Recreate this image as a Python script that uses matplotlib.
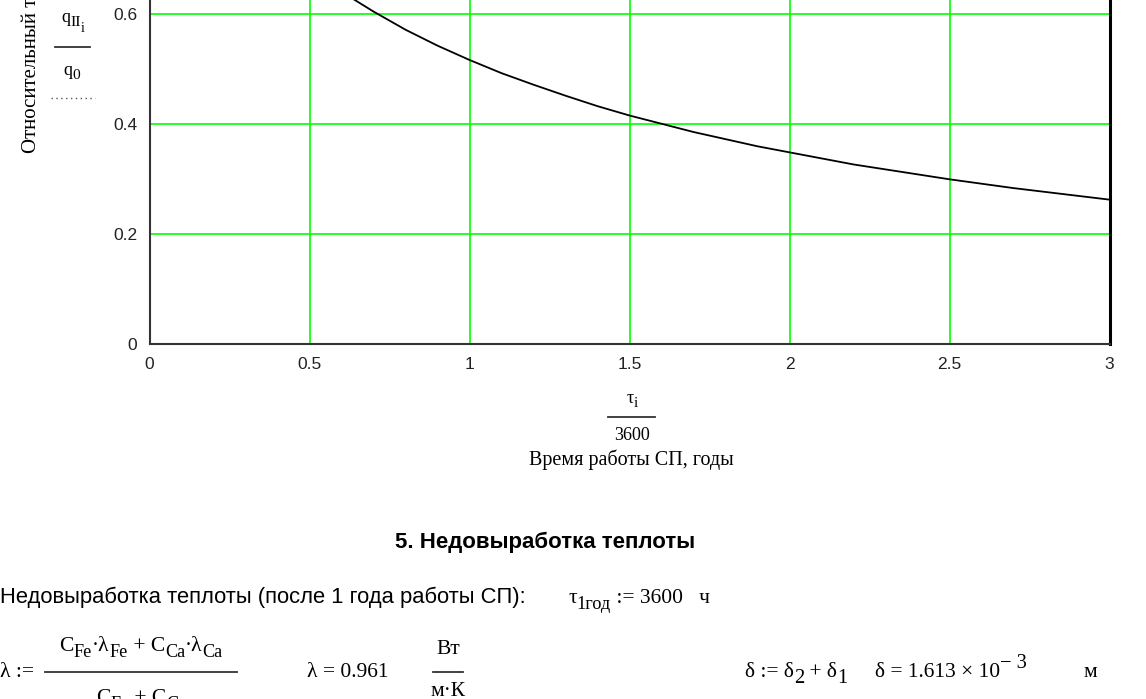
import matplotlib
matplotlib.use("Agg")
import matplotlib.pyplot as plt
from matplotlib.lines import Line2D

# значения
t_years = [0.6, 0.7, 0.8, 0.9, 1.0, 1.1, 1.2, 1.3, 1.4, 1.5, 1.6, 1.7, 1.8,
           1.9, 2.0, 2.1, 2.2, 2.3, 2.4, 2.5, 2.6, 2.7, 2.8, 2.9, 3.0]
q_rel = [0.641, 0.605, 0.572, 0.543, 0.517, 0.493, 0.472, 0.452, 0.433, 0.416,
         0.401, 0.386, 0.373, 0.360, 0.349, 0.338, 0.327, 0.318, 0.309, 0.300,
         0.292, 0.284, 0.277, 0.270, 0.263]
x_ticks = [0, 0.5, 1, 1.5, 2, 2.5, 3]
x_tick_labels = ["0", "0.5", "1", "1.5", "2", "2.5", "3"]
y_ticks = [0, 0.2, 0.4, 0.6]
y_tick_labels = ["0", "0.2", "0.4", "0.6"]

W, H = 1146, 699
SANS = "Liberation Sans"
SERIF = "Liberation Serif"
FS = 15.5  # шрифт формул

fig = plt.figure(figsize=(W / 100, H / 100), dpi=100)
fig.patch.set_facecolor("white")
renderer = fig.canvas.get_renderer()


def px(x, y):
    return x / W, 1 - y / H


def hline(xa, xb, y, **kw):
    fig.add_artist(Line2D([xa / W, xb / W], [1 - y / H] * 2,
                          transform=fig.transFigure, **kw))


def chain(x, y, parts, size=FS, ha="left"):
    # формула из кусков: (текст, сдвиг вниз в px, масштаб шрифта)
    items = []
    cx = x
    for s, dy, k in parts:
        t = fig.text(cx / W, 1 - (y + dy) / H, s, family=SERIF,
                     fontsize=size * k, ha="left", va="baseline")
        cx += t.get_window_extent(renderer).width
        items.append(t)
    if ha == "center":
        shift = (cx - x) / 2 / W
        for t in items:
            a, b = t.get_position()
            t.set_position((a - shift, b))
    return items


# ось: y=0 на 344 px, 550 px на единицу, верх обрезан краем картинки
x0, x1, y0 = 149.5, 1109.5, 344.3
ax = fig.add_axes([x0 / W, (H - y0) / H, (x1 - x0) / W, 550 / H])
ax.plot(t_years, q_rel, color="black", lw=1.3, zorder=3)
ax.set_xlim(0, 3)
ax.set_ylim(0, 1)
ax.set_xticks(x_ticks)
ax.set_xticklabels(x_tick_labels)
ax.set_yticks(y_ticks)
ax.set_yticklabels(y_tick_labels)
ax.tick_params(length=0, labelsize=12.5, pad=9)
for lab in ax.get_xticklabels() + ax.get_yticklabels():
    lab.set_fontfamily(SANS)
    lab.set_color("#222222")
ax.grid(True, color="#00ff00", lw=1.2)
ax.spines["top"].set_visible(False)
for side in ("left", "bottom"):
    ax.spines[side].set_color("#333333")
    ax.spines[side].set_linewidth(1.5)
ax.spines["right"].set_color("black")
ax.spines["right"].set_linewidth(2.2)

# подпись оси Y (обрезана сверху)
fig.text(*px(32, 153), "Относительный тепловой поток", rotation=90,
         ha="center", va="bottom", family=SERIF, fontsize=15)
chain(73, 22, [("q", 0, 1), ("II", 4, 0.85), ("i", 10, 0.75)], size=13,
      ha="center")
hline(55, 90, 47, color="#333333", lw=1.3)
chain(72, 75, [("q", 0, 1), ("0", 4, 0.85)], size=13, ha="center")
hline(51, 95, 98, color="#555555", lw=1.0, ls=(0, (1, 2.5)))

# подпись оси X
chain(632, 403, [("τ", 0, 1), ("i", 4, 0.85)], size=13, ha="center")
hline(608, 655, 417, color="#333333", lw=1.3)
fig.text(*px(632, 435), "3600", ha="center", va="center", family=SERIF,
         fontsize=13)
fig.text(*px(631, 460), "Время работы СП, годы", ha="center", va="center",
         family=SERIF, fontsize=14.5)

# раздел 5
fig.text(*px(545, 542), "5. Недовыработка теплоты", ha="center",
         va="center", family=SANS, fontweight="bold", fontsize=16)
fig.text(*px(0, 597), "Недовыработка теплоты (после 1 года работы СП):",
         ha="left", va="center", family=SANS, fontsize=15.8)
chain(568, 603, [("τ", 0, 1), ("1год", 6, 0.85), (" := 3600   ч", 0, 1)])

chain(0, 677, [("λ := ", 0, 1)])
chain(141, 651, [("C", 0, 1), ("Fe", 6, 0.85), ("·λ", 0, 1), ("Fe", 6, 0.85),
                 (" + C", 0, 1), ("Ca", 6, 0.85), ("·λ", 0, 1),
                 ("Ca", 6, 0.85)], ha="center")
hline(45, 237, 672, color="#333333", lw=1.3)
chain(141, 703, [("C", 0, 1), ("Fe", 6, 0.85), (" + C", 0, 1),
                 ("Ca", 6, 0.85)], ha="center")

chain(307, 677, [("λ = 0.961", 0, 1)])
chain(448, 654, [("Вт", 0, 1)], ha="center")
hline(433, 463, 672, color="#333333", lw=1.3)
chain(448, 696, [("м·К", 0, 1)], ha="center")

chain(745, 677, [("δ := δ", 0, 1), ("2", 6, 0.95), (" + δ", 0, 1),
                 ("1", 6, 0.95)])
chain(875, 677, [("δ = 1.613 × 10", 0, 1), ("− 3", -9, 0.95)])
chain(1090, 677, [("м", 0, 1)], ha="center")

fig.savefig("out.png", dpi=100, facecolor="white")
